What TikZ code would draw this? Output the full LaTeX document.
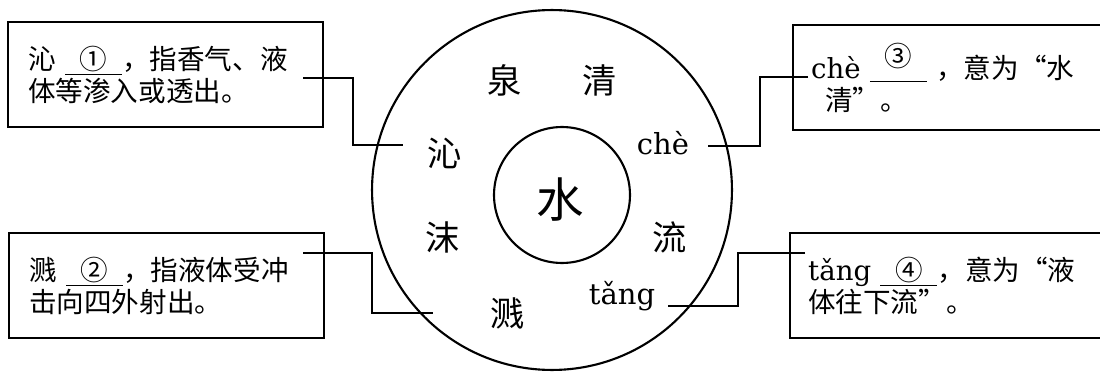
\documentclass[tikz,border=0pt]{standalone}
\usepackage{fontspec}
\setmainfont{Noto Sans CJK SC}
\newfontfamily\py{DejaVu Serif}
\usetikzlibrary{positioning, calc}

% blank to fill in, with its number on top
\newcommand\blankno[2][0pt]{\underline{\makebox[2.07em]{\raisebox{#1}{#2}}}}

\begin{document}
\begin{tikzpicture}[x=0.02cm, y=-0.02cm, line width=1.2pt,
  infobox/.style={draw, line width=1.4pt, anchor=north west, align=left,
    inner ysep=0pt, minimum height=2.1cm, font=\fontsize{15.7}{18}\selectfont},
  leftbox/.style={infobox, inner xsep=0.4cm, text width=5.5cm},
  rightbox/.style={infobox, inner xsep=0.36cm, text width=7cm},
  ring/.style={font=\fontsize{19.5}{22}\selectfont},
  pinyin/.style={font=\py\fontsize{16.5}{20}\selectfont},
  link/.style={line width=1.3pt}]

\clip (0,0) rectangle (1100,372);

% ---- Circles -----------------------------------------------------------
\node[draw, circle, inner sep=0pt, minimum size=7.2cm] (pool) at (552,190) {};
\node[draw, circle, inner sep=0pt, minimum size=2.72cm] (core) at (562,195) {};
\node[font=\fontsize{27}{29}\selectfont] (shui) at (560,200) {水};

\node[ring] (quan) at (505,80) {泉};
\node[ring] (qing) at (600,80) {清};
\node[ring] (qin)  at (445,153) {沁};
\node[pinyin] (che) at (663,143) {chè};
\node[ring] (mo)   at (443,237) {沫};
\node[ring] (liu)  at (670,237) {流};
\node[pinyin] (tang) at (622,296) {tǎng};
\node[ring] (jian) at (508,313) {溅};

% ---- Boxes -------------------------------------------------------------
\node[leftbox] (qinbox) at (7,21)
  {沁~\blankno{①}，指香气、液\\体等渗入或透出。};
\node[leftbox] (jianbox) at (8,232)
  {溅~\blankno{②}，指液体受冲\\击向四外射出。};
\node[rightbox] (chebox) at (792,24)
  {{\py chè}~\blankno[0.45em]{③}~，意为“水\\\hspace{0.5em}清”。};
\node[rightbox] (tangbox) at (789,232)
  {{\py tǎng}~\blankno{④}，意为“液\\体往下流”。};

% ---- Connectors --------------------------------------------------------
\coordinate (qinA) at (303,78);   \coordinate (qinB) at (403,145);
\coordinate (cheA) at (808,77);   \coordinate (cheB) at (708,146);
\coordinate (jianA) at (303,253); \coordinate (jianB) at (433,313);
\coordinate (tangA) at (805,253); \coordinate (tangB) at (668,306);
\draw[link] (qinA) -- ++(50,0) |- (qinB);
\draw[link] (cheA) -- ++(-48,0) |- (cheB);
\draw[link] (jianA) -- ++(69,0) |- (jianB);
\draw[link] (tangA) -- ++(-67,0) |- (tangB);

\end{tikzpicture}
\end{document}
